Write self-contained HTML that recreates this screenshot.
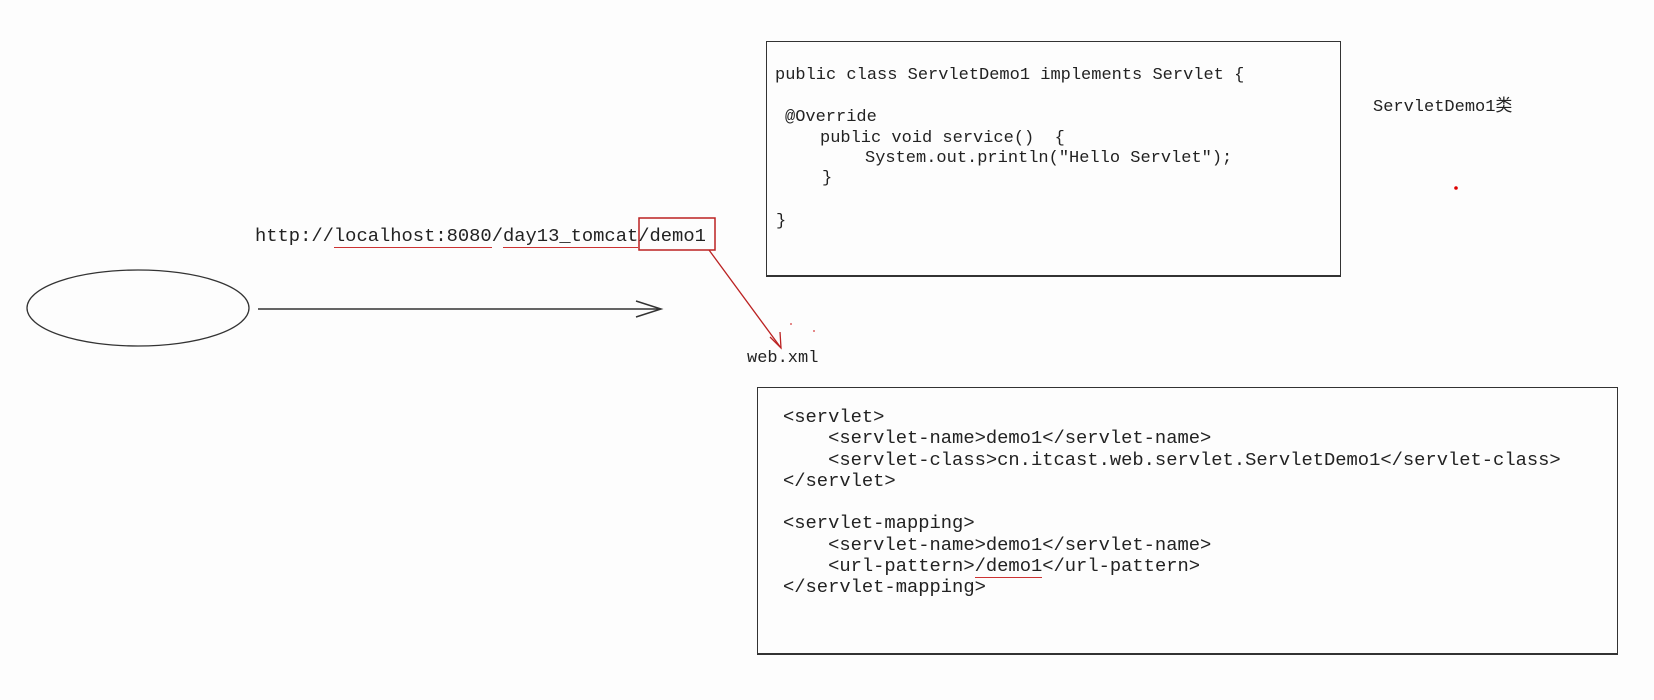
<!DOCTYPE html>
<html><head><meta charset="utf-8"><style>
body{margin:0;width:1654px;height:700px;background:#fdfdfd;position:relative;overflow:hidden;font-family:"Liberation Mono","Noto Sans CJK SC",monospace;color:#222}
.t{position:absolute;white-space:pre;line-height:20px}
.box{position:absolute;border:1.5px solid #333;box-sizing:border-box;border-bottom-width:2.5px}
u{text-decoration:none;border-bottom:1.5px solid #c33}
</style></head><body>
<svg width="1654" height="700" style="position:absolute;left:0;top:0">
<ellipse cx="138" cy="308" rx="111" ry="38" fill="none" stroke="#333" stroke-width="1.3"/>
<line x1="258" y1="309" x2="660" y2="309" stroke="#333" stroke-width="1.5"/>
<polyline points="636,301 661,309 636,317" fill="none" stroke="#333" stroke-width="1.5"/>
<rect x="639" y="218" width="76" height="32" fill="none" stroke="#b22" stroke-width="1.5"/>
<line x1="709" y1="250" x2="781" y2="348" stroke="#b22" stroke-width="1.3"/>
<polyline points="770,337 781,348 780,332" fill="none" stroke="#b22" stroke-width="1.3"/>
<circle cx="1456" cy="188" r="1.8" fill="#d00"/>
<circle cx="791" cy="324" r="1" fill="#d66"/>
<circle cx="814" cy="331" r="1" fill="#d66"/>
</svg>
<div class="box" style="left:766px;top:41px;width:575px;height:236px"></div>
<div class="box" style="left:757px;top:387px;width:861px;height:268px"></div>
<div class="t" style="left:775px;top:66px;font-size:17px">public class ServletDemo1 implements Servlet {</div>
<div class="t" style="left:785px;top:108px;font-size:17px">@Override</div>
<div class="t" style="left:820px;top:129px;font-size:17px">public void service()  {</div>
<div class="t" style="left:865px;top:149px;font-size:17px">System.out.println("Hello Servlet");</div>
<div class="t" style="left:822px;top:169px;font-size:17px">}</div>
<div class="t" style="left:776px;top:212px;font-size:17px">}</div>
<div class="t" style="left:1373px;top:98px;font-size:17px">ServletDemo1类</div>
<div class="t" style="left:255px;top:226px;font-size:18.8px">http://<u>localhost:8080</u>/<u>day13_tomcat</u>/demo1</div>
<div class="t" style="left:747px;top:349px;font-size:17px">web.xml</div>
<div class="t" style="left:783px;top:407px;font-size:18.8px;line-height:21.3px">&lt;servlet&gt;
    &lt;servlet-name&gt;demo1&lt;/servlet-name&gt;
    &lt;servlet-class&gt;cn.itcast.web.servlet.ServletDemo1&lt;/servlet-class&gt;
&lt;/servlet&gt;

&lt;servlet-mapping&gt;
    &lt;servlet-name&gt;demo1&lt;/servlet-name&gt;
    &lt;url-pattern&gt;<u>/demo1</u>&lt;/url-pattern&gt;
&lt;/servlet-mapping&gt;</div>
</body></html>
